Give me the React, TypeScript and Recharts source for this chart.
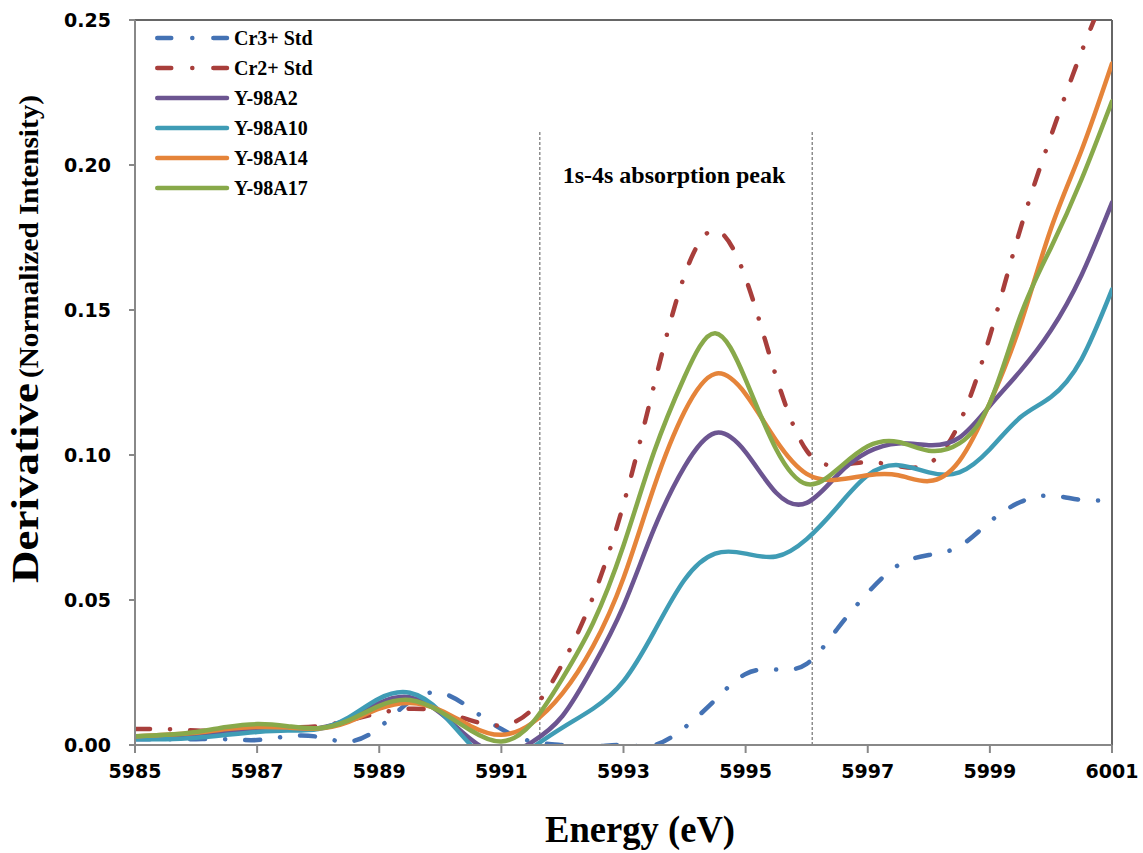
import React from 'react';
import { LineChart, Line, XAxis, YAxis, ReferenceLine, Legend } from 'recharts';

const energy = [5985, 5985.5, 5986, 5986.5, 5987, 5987.5, 5988, 5988.5, 5989, 5989.5, 5990, 5990.5, 5991, 5991.5, 5992, 5992.5, 5993, 5993.5, 5994, 5994.5, 5995, 5995.5, 5996, 5996.5, 5997, 5997.5, 5998, 5998.5, 5999, 5999.5, 6000, 6000.5, 6001];

const cr3Std = [0.002, 0.002, 0.002, 0.002, 0.0017, 0.003, 0.0028, 0.0012, 0.006, 0.015, 0.018, 0.0125, 0.0055, 0.0012, 0.0, -0.0005, 0.0, 0.0, 0.006, 0.0155, 0.0245, 0.026, 0.028, 0.04, 0.0525, 0.062, 0.0655, 0.0685, 0.077, 0.0838, 0.086, 0.0845, 0.0845];
const cr2Std = [0.0055, 0.0055, 0.005, 0.005, 0.0055, 0.006, 0.0065, 0.0085, 0.011, 0.0125, 0.0115, 0.0085, 0.0068, 0.0122, 0.028, 0.051, 0.083, 0.124, 0.162, 0.1775, 0.161, 0.127, 0.1015, 0.0965, 0.0975, 0.0962, 0.097, 0.111, 0.141, 0.178, 0.21, 0.239, 0.265];
const y98A2 = [0.0028, 0.003, 0.0035, 0.0045, 0.0052, 0.0055, 0.0058, 0.009, 0.0145, 0.0165, 0.011, 0.002, -0.003, 0.001, 0.01, 0.027, 0.048, 0.0745, 0.096, 0.1076, 0.101, 0.087, 0.0835, 0.093, 0.101, 0.104, 0.1034, 0.106, 0.117, 0.129, 0.143, 0.162, 0.187];
const y98A10 = [0.002, 0.002, 0.0025, 0.0035, 0.0045, 0.005, 0.0055, 0.0095, 0.016, 0.018, 0.0115, 0.0, -0.006, -0.001, 0.006, 0.0125, 0.022, 0.039, 0.057, 0.066, 0.066, 0.065, 0.071, 0.082, 0.093, 0.0965, 0.094, 0.094, 0.102, 0.113, 0.12, 0.133, 0.157];
const y98A14 = [0.003, 0.0035, 0.0042, 0.0055, 0.0062, 0.006, 0.0057, 0.008, 0.0125, 0.0145, 0.012, 0.0065, 0.0035, 0.0075, 0.0178, 0.034, 0.0576, 0.089, 0.115, 0.128, 0.121, 0.105, 0.0935, 0.0915, 0.093, 0.093, 0.091, 0.098, 0.118, 0.145, 0.178, 0.205, 0.235];
const y98A17 = [0.003, 0.0035, 0.0045, 0.0062, 0.0072, 0.0065, 0.0058, 0.0085, 0.0135, 0.0155, 0.0115, 0.005, 0.0012, 0.0075, 0.023, 0.042, 0.0688, 0.101, 0.127, 0.142, 0.126, 0.102, 0.09, 0.095, 0.103, 0.1045, 0.1015, 0.104, 0.118, 0.148, 0.1715, 0.195, 0.222];

const xTicks = [5985, 5987, 5989, 5991, 5993, 5995, 5997, 5999, 6001];
const yTicks = [0, 0.05, 0.1, 0.15, 0.2, 0.25];
const peakBounds = [5991.63, 5996.09];

const DASHDOT = '15 20 0.1 20';

const series = [
  { key: 'cr3', name: 'Cr3+ Std', values: cr3Std, color: '#4472B4', dash: DASHDOT },
  { key: 'cr2', name: 'Cr2+ Std', values: cr2Std, color: '#A83E3B', dash: DASHDOT },
  { key: 'a2', name: 'Y-98A2', values: y98A2, color: '#6C5591', dash: undefined },
  { key: 'a10', name: 'Y-98A10', values: y98A10, color: '#3F9CB5', dash: undefined },
  { key: 'a14', name: 'Y-98A14', values: y98A14, color: '#E5843A', dash: undefined },
  { key: 'a17', name: 'Y-98A17', values: y98A17, color: '#88A94A', dash: undefined },
];

const data = energy.map((e, i) => {
  const row: Record<string, number> = { e };
  series.forEach((s) => {
    row[s.key] = s.values[i];
  });
  return row;
});

const serif = '"Liberation Serif", "Times New Roman", serif';
const tickFont = { fontFamily: '"DejaVu Sans", Verdana, sans-serif', fontWeight: 'bold', fontSize: 19, fill: '#000' };

const renderLegend = () => (
  <div style={{ fontFamily: serif, fontWeight: 'bold', fontSize: 20, color: '#000' }}>
    {series.map((s) => (
      <div key={s.key} style={{ display: 'flex', alignItems: 'center', height: 30 }}>
        <svg width={79} height={12} style={{ display: 'block' }}>
          <line x1={2.25} y1={6} x2={72} y2={6} stroke={s.color} strokeWidth={4.5} strokeLinecap="round" strokeDasharray={s.dash ? '14 21 0.1 21' : undefined} />
        </svg>
        <span style={{ lineHeight: '30px' }}>{s.name}</span>
      </div>
    ))}
  </div>
);

export default function App() {
  return (
    <div style={{ position: 'absolute', left: 0, top: 0, width: 1143, height: 853, background: '#fff' }}>
      <LineChart width={1143} height={853} data={data} margin={{ top: 20, right: 31, bottom: 0, left: 0 }}>
        <XAxis
          dataKey="e"
          type="number"
          domain={[5985, 6001]}
          ticks={xTicks}
          allowDataOverflow
          height={108}
          tick={tickFont}
          tickSize={8}
          tickMargin={12}
          stroke="#888"
          axisLine={{ stroke: '#888', strokeWidth: 2 }}
          tickLine={{ stroke: '#888', strokeWidth: 2 }}
        />
        <YAxis
          type="number"
          domain={[0, 0.25]}
          ticks={yTicks}
          allowDataOverflow
          width={135}
          tick={tickFont}
          tickSize={6}
          tickMargin={18}
          tickFormatter={(v: number) => v.toFixed(2)}
          axisLine={{ stroke: '#888', strokeWidth: 2 }}
          tickLine={{ stroke: '#888', strokeWidth: 2 }}
        />
        <ReferenceLine y={0.25} stroke="#666" strokeWidth={2} />
        <ReferenceLine x={6001} stroke="#666" strokeWidth={2} />
        {peakBounds.map((b) => (
          <ReferenceLine
            key={b}
            segment={[{ x: b, y: 0 }, { x: b, y: 0.2115 }]}
            stroke="#555"
            strokeWidth={1}
            strokeDasharray="3 2"
          />
        ))}
        <Legend
          layout="vertical"
          align="center"
          verticalAlign="middle"
          content={renderLegend}
          wrapperStyle={{ left: 155, top: 23, width: 260, height: 180 }}
        />
        {series.map((s) => (
          <Line
            key={s.key}
            dataKey={s.key}
            name={s.name}
            type="natural"
            stroke={s.color}
            strokeWidth={4.5}
            strokeDasharray={s.dash}
            strokeLinecap="round"
            dot={false}
            activeDot={false}
            isAnimationActive={false}
          />
        ))}
      </LineChart>
      <svg width={1143} height={853} style={{ position: 'absolute', left: 0, top: 0, pointerEvents: 'none' }}>
        <text x={674} y={183} textAnchor="middle" fontFamily={serif} fontWeight="bold" fontSize={24} fill="#000">
          1s-4s absorption peak
        </text>
        <text x={640} y={842} textAnchor="middle" fontFamily={serif} fontWeight="bold" fontSize={38} fill="#000" textLength={190} lengthAdjust="spacingAndGlyphs">
          Energy (eV)
        </text>
        <text x={38} y={583} transform="rotate(-90 38 583)" fontFamily={serif} fontWeight="bold" fontSize={38} fill="#000" textLength={200} lengthAdjust="spacingAndGlyphs">
          Derivative
        </text>
        <text x={38} y={378} transform="rotate(-90 38 378)" fontFamily={serif} fontWeight="bold" fontSize={28} fill="#000" textLength={283} lengthAdjust="spacingAndGlyphs">
          (Normalized Intensity)
        </text>
      </svg>
    </div>
  );
}
